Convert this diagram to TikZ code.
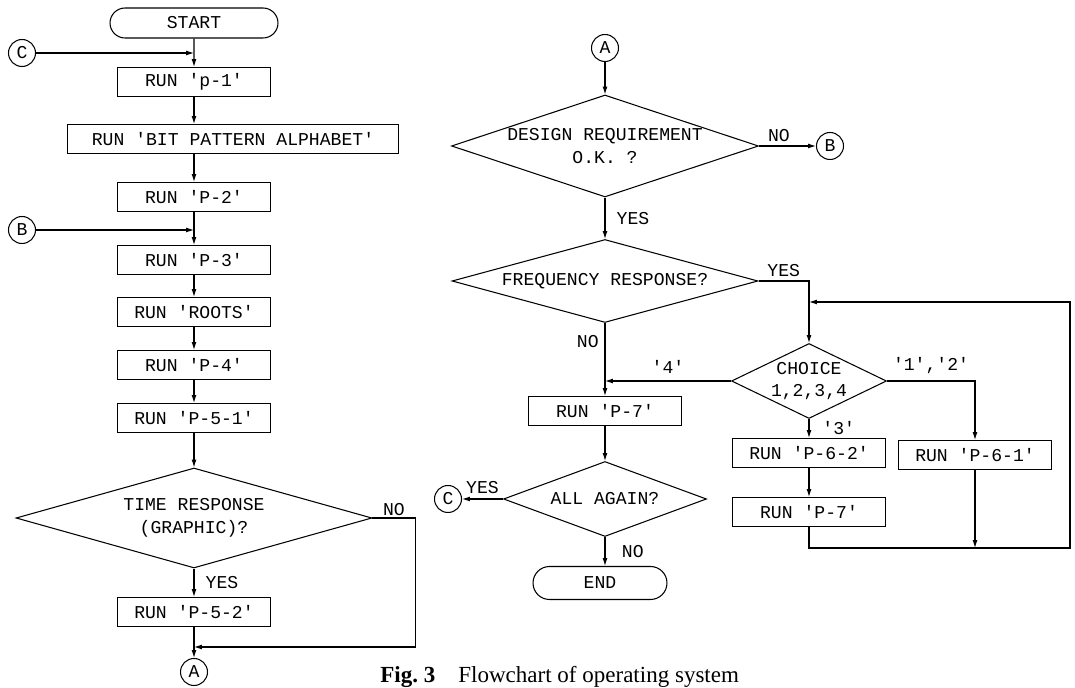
\documentclass[tikz,border=0pt]{standalone}
\usepackage{fontspec}
\setmainfont{Liberation Serif}
\setmonofont{Liberation Mono}
\usetikzlibrary{shapes.geometric,shapes.misc,arrows.meta}

\tikzset{
  proc/.style={draw, rectangle, minimum width=3.06cm, minimum height=0.58cm, inner sep=0pt},
  term/.style={draw, rounded rectangle, minimum height=0.6cm, inner sep=0pt},
  decide/.style={draw, diamond, inner sep=0pt, align=center},
  conn/.style={draw, circle, minimum size=0.54cm, inner sep=0pt},
  flow/.style={-{Latex[length=4.5pt,width=2.8pt]}},
}

\begin{document}
\begin{tikzpicture}[x=0.02cm, y=-0.02cm, line width=0.6pt,
  every node/.style={font=\fontsize{10.3}{13}\selectfont\ttfamily}]

\useasboundingbox (0,0) rectangle (1075,688);

% left column
\node[term, minimum width=3.36cm] (start) at (194,23) {START};
\node[proc] (p1) at (194,82) {RUN 'p-1'};
\node[proc, minimum width=6.64cm] (bit) at (233,139) {RUN 'BIT PATTERN ALPHABET'};
\node[proc] (p2) at (194,197) {RUN 'P-2'};
\node[proc] (p3) at (194,260) {RUN 'P-3'};
\node[proc] (roots) at (194,312) {RUN 'ROOTS'};
\node[proc] (p4) at (194,365) {RUN 'P-4'};
\node[proc] (p51) at (194,418) {RUN 'P-5-1'};
\node[decide, aspect=3.56, minimum width=7.12cm, minimum height=2cm] (time) at (194,518) {TIME RESPONSE\\(GRAPHIC)?};
\node[proc] (p52) at (194,612) {RUN 'P-5-2'};
\node[conn] (a1) at (194,672) {A};
\node[conn] (c1) at (22,53) {C};
\node[conn] (b1) at (22,230) {B};

\coordinate (jc) at (194,53);
\coordinate (jb) at (194,230);
\coordinate (ja) at (194,647);

\draw[flow] (start) -- (p1);
\draw[flow] (c1) -- (jc);
\draw[flow] (p1.south) -- (p1.south |- bit.north);
\draw[flow] (p2.north |- bit.south) -- (p2.north);
\draw[flow] (p2) -- (p3);
\draw[flow] (b1) -- (jb);
\draw[flow] (p3) -- (roots);
\draw[flow] (roots) -- (p4);
\draw[flow] (p4) -- (p51);
\draw[flow] (p51) -- (time);
\draw[flow] (time) -- node[right, xshift=3pt] {YES} (p52);
\draw[flow] (p52) -- (a1);
\draw[flow] (time.east) -- node[above, inner sep=1pt] {NO} ++(43,0) |- (ja);

% right column
\node[conn] (a2) at (605,48) {A};
\node[decide, aspect=3.0, minimum width=6.14cm, minimum height=2.04cm] (design) at (605,146) {DESIGN REQUIREMENT\\O.K. ?};
\node[conn] (b2) at (830,146) {B};
\node[decide, aspect=3.69, minimum width=6.12cm, minimum height=1.66cm] (freq) at (605,281) {FREQUENCY RESPONSE?};
\node[decide, aspect=2.07, minimum width=3.1cm, minimum height=1.5cm] (choice) at (809,381) {CHOICE\\1,2,3,4};
\node[proc] (p7a) at (605,411) {RUN 'P-7'};
\node[proc] (p62) at (809,453) {RUN 'P-6-2'};
\node[proc] (p61) at (975,455) {RUN 'P-6-1'};
\node[proc] (p7b) at (809,512) {RUN 'P-7'};
\node[decide, aspect=2.7, minimum width=4.06cm, minimum height=1.5cm] (again) at (605,499) {ALL AGAIN?};
\node[conn] (c2) at (448,499) {C};
\node[term, minimum width=2.68cm, minimum height=0.66cm] (end) at (600,583) {END};

\coordinate (j4) at (605,381);
\coordinate (jf) at (809,302);
\coordinate (bot) at (1070,548);

\draw[flow] (a2) -- (design);
\draw[flow] (design) -- node[above, pos=0.35, inner sep=2pt] {NO} (b2);
\draw[flow] (design) -- node[right, xshift=3pt] {YES} (freq);
\draw[flow] (freq.east) -| node[above, pos=0.25, inner sep=2pt] {YES} (choice.north);
\draw[flow] (freq) -- node[left, pos=0.25] {NO} (p7a);
\draw[flow] (choice.west) -- node[above, inner sep=4pt] {'4'} (j4);
\draw[flow] (choice.east) -| node[above, pos=0.25, inner sep=4pt] {'1','2'} (p61.north);
\draw[flow] (choice) -- node[right, xshift=4pt] {'3'} (p62);
\draw[flow] (p62) -- (p7b);
\draw[flow] (p7b.south) |- (bot) |- (jf);
\draw[flow] (p61.south) -- (p61.south |- bot);
\draw[flow] (p7a) -- (again);
\draw[flow] (again) -- node[above, inner sep=3pt] {YES} (c2);
\draw[flow] (again.south) -- node[right, xshift=6pt] {NO} (again.south |- end.north);

\node[anchor=west, font=\rmfamily\fontsize{13.1}{15}\selectfont] (cap) at (374,677) {\textbf{Fig.~3}\quad Flowchart of operating system};

\end{tikzpicture}
\end{document}
